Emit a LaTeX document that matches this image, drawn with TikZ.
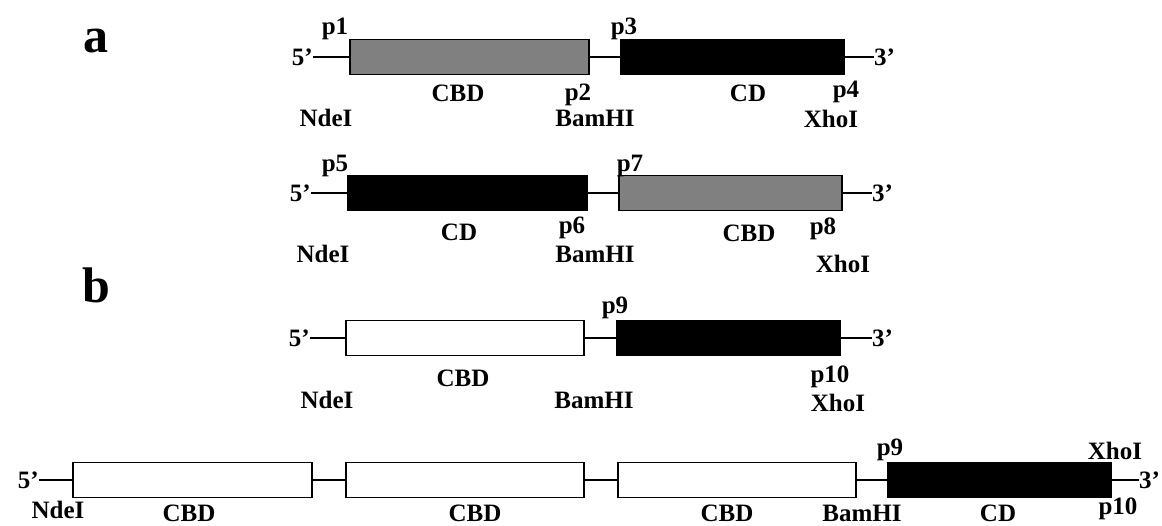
\documentclass[tikz,border=0pt]{standalone}
\usepackage{fontspec}
\setmainfont{Liberation Serif}
\begin{document}
\begin{tikzpicture}[x=1pt,y=-1pt,
  lbl/.style={font=\bfseries\fontsize{25}{28}\selectfont, inner sep=0pt},
  big/.style={font=\bfseries\fontsize{50}{56}\selectfont, inner sep=0pt, anchor=base},
  seg/.style={draw, line width=1.8pt, minimum height=35pt, inner sep=0pt},
  cbdgray/.style={seg, fill=gray},
  cdblack/.style={seg, fill=black},
  cbdwhite/.style={seg, fill=white},
  wire/.style={line width=1.6pt}]
\useasboundingbox (0,0) rectangle (1162,526);

% panel labels
\node[big] (la) at (96,53) {a};
\node[big] (lb) at (96,303) {b};

% ---- construct 1: CBD-CD ----
\node[lbl, anchor=east] (f1) at (313,57) {5’};
\node[cbdgray, minimum width=239pt] (g1) at (469.5,57) {};
\node[cdblack, minimum width=223pt] (k1) at (732.5,57) {};
\node[lbl, anchor=west] (t1) at (874,57) {3’};
\draw[wire] (f1.east) -- (g1.west) (g1.east) -- (k1.west) (k1.east) -- (t1.west);
\node[lbl] (p1) at (335,29) {p1};
\node[lbl] (p3) at (624,29) {p3};
\node[lbl] (c1) at (458,93) {CBD};
\node[lbl] (p2) at (578,95) {p2};
\node[lbl] (d1) at (748,93) {CD};
\node[lbl] (p4) at (846,92) {p4};
\node[lbl] (n1) at (326,118) {NdeI};
\node[lbl] (b1) at (595,118) {BamHI};
\node[lbl] (x1) at (831,119) {XhoI};

% ---- construct 2: CD-CBD ----
\node[lbl, anchor=east] (f2) at (311,193) {5’};
\node[cdblack, minimum width=239pt] (k2) at (467.5,193) {};
\node[cbdgray, minimum width=223pt] (g2) at (730.5,193) {};
\node[lbl, anchor=west] (t2) at (872,193) {3’};
\draw[wire] (f2.east) -- (k2.west) (k2.east) -- (g2.west) (g2.east) -- (t2.west);
\node[lbl] (p5) at (335,166) {p5};
\node[lbl] (p7) at (630,166) {p7};
\node[lbl] (d2) at (459,232) {CD};
\node[lbl] (p6) at (572,228) {p6};
\node[lbl] (c2) at (749,233) {CBD};
\node[lbl] (p8) at (823,229) {p8};
\node[lbl] (n2) at (323,254) {NdeI};
\node[lbl] (b2) at (595,254) {BamHI};
\node[lbl] (x2) at (843,264) {XhoI};

% ---- construct 3: CBD-CD ----
\node[lbl, anchor=east] (f3) at (310,338) {5’};
\node[cbdwhite, minimum width=238pt] (w3) at (465,338) {};
\node[cdblack, minimum width=223pt] (k3) at (728.5,338) {};
\node[lbl, anchor=west] (t3) at (872,338) {3’};
\draw[wire] (f3.east) -- (w3.west) (w3.east) -- (k3.west) (k3.east) -- (t3.west);
\node[lbl] (p9a) at (615,308) {p9};
\node[lbl] (c3) at (463,378) {CBD};
\node[lbl] (p10a) at (830,377) {p10};
\node[lbl] (n3) at (327,400) {NdeI};
\node[lbl] (b3) at (594,400) {BamHI};
\node[lbl] (x3) at (838,403) {XhoI};

% ---- construct 4: (CBD)3-CD ----
\node[lbl, anchor=east] (f4) at (39,480) {5’};
\node[cbdwhite, minimum width=239pt] (w4a) at (192.5,480) {};
\node[cbdwhite, minimum width=238pt] (w4b) at (465,480) {};
\node[cbdwhite, minimum width=238pt] (w4c) at (737,480) {};
\node[cdblack, minimum width=223pt] (k4) at (999.5,480) {};
\node[lbl, anchor=west] (t4) at (1139,480) {3’};
\draw[wire] (f4.east) -- (w4a.west) (w4a.east) -- (w4b.west) (w4b.east) -- (w4c.west)
  (w4c.east) -- (k4.west) (k4.east) -- (t4.west);
\node[lbl] (p9b) at (890,450) {p9};
\node[lbl] (x4) at (1115,451) {XhoI};
\node[lbl] (n4) at (58,510) {NdeI};
\node[lbl] (c4a) at (189,513) {CBD};
\node[lbl] (c4b) at (475,513) {CBD};
\node[lbl] (c4c) at (727,513) {CBD};
\node[lbl] (b4) at (862,513) {BamHI};
\node[lbl] (d4) at (998,513) {CD};
\node[lbl] (p10b) at (1118,509) {p10};
\end{tikzpicture}
\end{document}
